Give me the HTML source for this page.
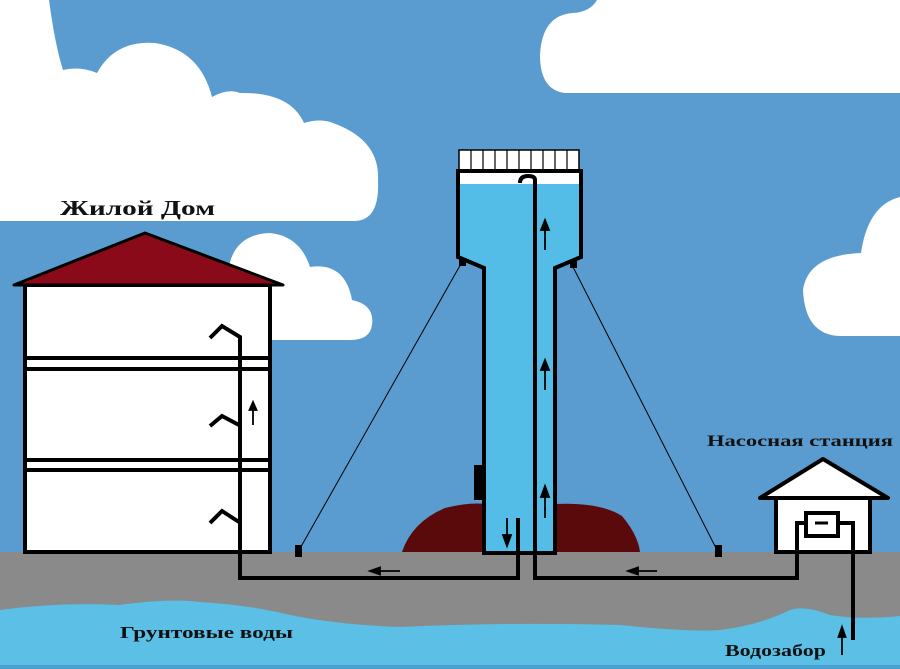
<!DOCTYPE html>
<html><head><meta charset="utf-8"><style>html,body{margin:0;padding:0;background:#5a9ccf}svg{display:block}</style></head><body>
<svg width="900" height="669" viewBox="0 0 900 669" xmlns="http://www.w3.org/2000/svg">
<rect width="900" height="669" fill="#5a9ccf"/>
<!-- clouds -->
<path d="M0 0 H49 Q55 45 63 70 Q80 66 97 73 Q115 40 155 43 Q200 50 212 97 Q228 88 240 93 Q290 92 304 123 Q320 118 333 123 Q380 140 378 180 Q380 220 355 221 H0 Z" fill="#fff"/>
<path d="M597 0 H900 V93 H565 Q540 90 540 55 Q542 15 573 13 Q590 12 597 0 Z" fill="#fff"/>
<path d="M900 197 Q868 205 861 253 Q808 255 803 290 Q805 335 840 336 H900 Z" fill="#fff"/>
<path d="M230 262 Q238 234 270 233 Q300 236 310 267 Q345 262 352 300 Q375 305 372 325 Q370 340 350 340 H230 Z" fill="#fff"/>
<!-- ground -->
<rect x="0" y="552" width="900" height="117" fill="#8a8a8a"/>
<path d="M0 610 Q60 602 120 605 Q170 598 200 602 Q250 605 290 615 Q340 625 400 627 Q500 622 620 625 Q690 632 720 630 Q760 625 790 610 Q805 605 830 615 Q860 620 900 616 V669 H0 Z" fill="#5bbfe6"/>
<rect x="0" y="665" width="900" height="4" fill="#4aa0d0"/>
<!-- mound -->
<path d="M402 552 Q412 522 445 508 Q470 502 485 504 V552 Z M555 504 Q600 502 622 516 Q638 535 640 552 H555 Z" fill="#5a0a0a"/>
<!-- house -->
<rect x="25" y="285" width="245" height="267" fill="#fff" stroke="#000" stroke-width="4"/>
<path d="M14 285 L145 233 L283 285 Z" fill="#8b0a1a" stroke="#000" stroke-width="3" stroke-linejoin="round"/>
<g stroke="#000" stroke-width="4">
<line x1="25" y1="358" x2="270" y2="358"/><line x1="25" y1="369" x2="270" y2="369"/>
<line x1="25" y1="460" x2="270" y2="460"/><line x1="25" y1="470" x2="270" y2="470"/>
</g>
<g stroke="#000" stroke-width="4" fill="none" stroke-linejoin="miter">
<path d="M210 338 L222 326 L240 337 V578 H518 V518"/>
<path d="M210 426 L222 416 L239 425"/>
<path d="M210 523 L222 511 L239 522"/>
<path d="M535 578 H797 V523 H805"/>
<path d="M838 523 H853 V640"/>
</g>
<!-- cables -->
<line x1="462" y1="262" x2="298" y2="552" stroke="#000" stroke-width="1"/>
<line x1="572" y1="265" x2="718" y2="552" stroke="#000" stroke-width="1"/>
<rect x="295" y="545" width="7" height="12" fill="#000"/>
<rect x="715" y="545" width="7" height="12" fill="#000"/>
<!-- tower -->
<rect x="459" y="150" width="120" height="20" fill="#fff" stroke="#000" stroke-width="1.5"/>
<g stroke="#000" stroke-width="1.2">
<line x1="471" y1="150" x2="471" y2="170"/><line x1="483" y1="150" x2="483" y2="170"/><line x1="495" y1="150" x2="495" y2="170"/><line x1="507" y1="150" x2="507" y2="170"/><line x1="519" y1="150" x2="519" y2="170"/><line x1="531" y1="150" x2="531" y2="170"/><line x1="543" y1="150" x2="543" y2="170"/><line x1="555" y1="150" x2="555" y2="170"/><line x1="567" y1="150" x2="567" y2="170"/>
</g>
<path d="M458 171 H581 V257 L555 268 V553 H484 V268 L458 257 Z" fill="#54bde7" stroke="#000" stroke-width="4"/>
<rect x="460" y="173" width="119" height="11" fill="#fff"/>
<path d="M535 580 V180 Q535 176 528 176 Q520 176 520 183" stroke="#000" stroke-width="4" fill="none"/>
<path d="M518 518 V580" stroke="#000" stroke-width="4"/>
<rect x="474" y="465" width="9" height="35" fill="#000"/>
<rect x="459" y="258" width="7" height="8" fill="#000"/>
<rect x="570" y="260" width="7" height="8" fill="#000"/>
<!-- arrows -->
<g stroke="#000" stroke-width="1.8" fill="#000">
<line x1="545" y1="250" x2="545" y2="228"/><path d="M541 230 L545 220 L549 230 Z"/>
<line x1="545" y1="390" x2="545" y2="368"/><path d="M541 370 L545 360 L549 370 Z"/>
<line x1="545" y1="518" x2="545" y2="495"/><path d="M541 497 L545 486 L549 497 Z"/>
<line x1="507" y1="518" x2="507" y2="538"/><path d="M503 535 L507 546 L511 535 Z"/>
<line x1="253" y1="425" x2="253" y2="408"/><path d="M249.5 410 L253 402 L256.5 410 Z"/>
<line x1="400" y1="571" x2="378" y2="571"/><path d="M380 567.5 L370 571 L380 574.5 Z"/>
<line x1="657" y1="571" x2="636" y2="571"/><path d="M638 567.5 L628 571 L638 574.5 Z"/>
<line x1="842" y1="655" x2="842" y2="635"/><path d="M838.5 637 L842 627 L845.5 637 Z"/>
</g>
<!-- pump house -->
<rect x="776" y="498" width="94" height="54" fill="#fff" stroke="#000" stroke-width="4"/>
<path d="M760 498 L823 459 L888 498 Z" fill="#fff" stroke="#000" stroke-width="4" stroke-linejoin="round"/>
<rect x="806" y="513" width="32" height="23" fill="#fff" stroke="#000" stroke-width="4"/>
<line x1="815" y1="523" x2="828" y2="523" stroke="#000" stroke-width="3"/>
<path d="M797 552 V523 H806 M838 523 H853 V552" stroke="#000" stroke-width="4" fill="none"/>
<!-- labels -->
<g font-family="Liberation Serif, serif" font-weight="bold" fill="#111">
<text x="60" y="215" font-size="21" textLength="155" lengthAdjust="spacingAndGlyphs">Жилой Дом</text>
<text x="707" y="446" font-size="16" textLength="186" lengthAdjust="spacingAndGlyphs">Насосная станция</text>
<text x="120" y="638" font-size="17" textLength="173" lengthAdjust="spacingAndGlyphs">Грунтовые воды</text>
<text x="725" y="656" font-size="17" textLength="101" lengthAdjust="spacingAndGlyphs">Водозабор</text>
</g>
</svg>
</body></html>
